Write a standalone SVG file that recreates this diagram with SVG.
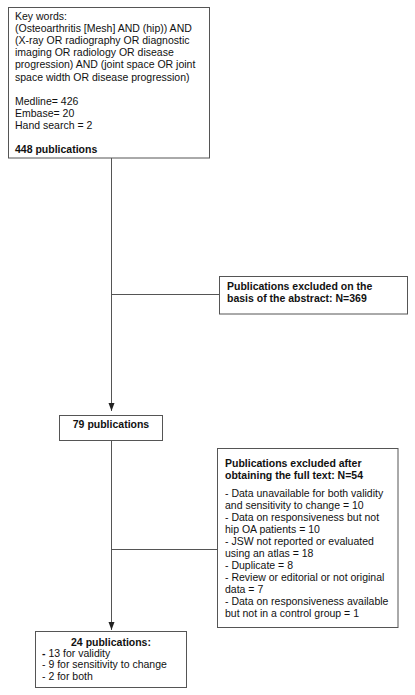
<svg xmlns="http://www.w3.org/2000/svg" width="415" height="695" viewBox="0 0 415 695">
<defs>
<style>
.box{fill:#fff;stroke:#555;stroke-width:1}
.t{font-family:"Liberation Sans",Arial,sans-serif;font-size:10.5px;fill:#111}
.b{font-weight:bold}
.c{stroke:#555;stroke-width:1;fill:none}
</style>
<marker id="ah" viewBox="0 0 8 8" refX="8" refY="4" markerWidth="8" markerHeight="8" markerUnits="userSpaceOnUse" orient="auto">
<path d="M0,1 L8,4 L0,7 Z" fill="#222"/>
</marker>
</defs>
<rect width="415" height="695" fill="#fff"/>
<g id="connectors">
<line class="c" x1="111.5" y1="158" x2="111.5" y2="411" marker-end="url(#ah)"/>
<line class="c" x1="111.5" y1="294.5" x2="219" y2="294.5"/>
<line class="c" x1="111.5" y1="440" x2="111.5" y2="630" marker-end="url(#ah)"/>
<line class="c" x1="111.5" y1="549.5" x2="217" y2="549.5"/>
</g>
<g id="search">
<rect class="box" x="8.5" y="7.5" width="201" height="150.5"/>
<text class="t" x="15" y="20">Key words:</text>
<text class="t" x="15" y="32.1">(Osteoarthritis [Mesh] AND (hip)) AND</text>
<text class="t" x="15" y="44.2">(X-ray OR radiography OR diagnostic</text>
<text class="t" x="15" y="56.3">imaging OR radiology OR disease</text>
<text class="t" x="15" y="68.4">progression) AND (joint space OR joint</text>
<text class="t" x="15" y="80.5">space width OR disease progression)</text>
<text class="t" x="15" y="104.7">Medline= 426</text>
<text class="t" x="15" y="116.8">Embase= 20</text>
<text class="t" x="15" y="128.9">Hand search = 2</text>
<text class="t b" x="15" y="153.1">448 publications</text>
</g>
<g id="excluded-abstract">
<rect class="box" x="219.5" y="276.5" width="188" height="37.5"/>
<text class="t b" x="227" y="289.5">Publications excluded on the</text>
<text class="t b" x="227" y="301.7">basis of the abstract: N=369</text>
</g>
<g id="p79">
<rect class="box" x="59.5" y="415.5" width="103" height="25"/>
<text class="t b" x="111" y="428" text-anchor="middle">79 publications</text>
</g>
<g id="excluded-fulltext">
<rect class="box" x="217.5" y="448.5" width="180.5" height="179"/>
<text class="t b" x="225" y="467.3">Publications excluded after</text>
<text class="t b" x="225" y="479.3">obtaining the full text: N=54</text>
<text class="t" x="225" y="497">- Data unavailable for both validity</text>
<text class="t" x="225" y="509">and sensitivity to change = 10</text>
<text class="t" x="225" y="521">- Data on responsiveness but not</text>
<text class="t" x="225" y="533">hip OA patients = 10</text>
<text class="t" x="225" y="545">- JSW not reported or evaluated</text>
<text class="t" x="225" y="557">using an atlas = 18</text>
<text class="t" x="225" y="569">- Duplicate = 8</text>
<text class="t" x="225" y="581">- Review or editorial or not original</text>
<text class="t" x="225" y="593">data = 7</text>
<text class="t" x="225" y="605">- Data on responsiveness available</text>
<text class="t" x="225" y="617">but not in a control group = 1</text>
</g>
<g id="p24">
<rect class="box" x="35.5" y="631.5" width="151" height="56"/>
<text class="t b" x="111" y="645.5" text-anchor="middle">24 publications:</text>
<text class="t" x="42" y="656.5"><tspan class="b">-</tspan> 13 for validity</text>
<text class="t" x="42" y="668.2">- 9 for sensitivity to change</text>
<text class="t" x="42" y="679.9">- 2 for both</text>
</g>
</svg>
